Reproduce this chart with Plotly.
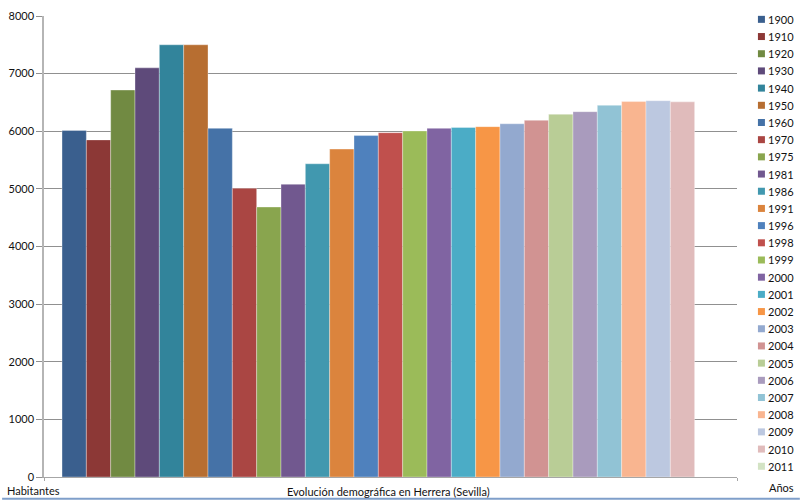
import plotly.graph_objects as go

years = ["1900", "1910", "1920", "1930", "1940", "1950", "1960", "1970", "1975",
         "1981", "1986", "1991", "1996", "1998", "1999", "2000", "2001", "2002",
         "2003", "2004", "2005", "2006", "2007", "2008", "2009", "2010", "2011"]
population = [6015, 5850, 6715, 7100, 7500, 7500, 6050, 5010, 4685,
              5080, 5435, 5690, 5925, 5975, 6005, 6050, 6065, 6080,
              6130, 6190, 6295, 6340, 6450, 6515, 6530, 6510, None]
colors = ["#3A5F8E", "#8C3836", "#718A42", "#5E4A7A", "#32849B", "#B76E31",
          "#4572A7", "#AA4643", "#89A54E", "#71588F", "#4198AF", "#DB843D",
          "#4F81BD", "#C0504D", "#9BBB59", "#8064A2", "#4BACC6", "#F79646",
          "#93A9CF", "#D19392", "#B9CD96", "#A99BBD", "#91C3D5", "#F9B590",
          "#BCC8E0", "#E0BBBB", "#D3E3C4"]
y_ticks = [0, 1000, 2000, 3000, 4000, 5000, 6000, 7000, 8000]
category = "Habitantes"
x_title = "Evolución demográfica en Herrera (Sevilla)"
legend_title = "Años"

FONT = "Lato, 'Open Sans', sans-serif"
W, H = 800, 501
ML, MR, MT, MB = 42, 63, 9, 24
PW, PH = W - ML - MR, H - MT - MB

fig = go.Figure()
for yr, val, col in zip(years, population, colors):
    fig.add_trace(go.Bar(
        x=[category], y=[val], name=yr,
        marker=dict(color=col, line=dict(color="rgba(255,255,255,0.55)", width=0.6)),
        showlegend=False,
    ))

# manual legend (plotly's minimum legend row height is too tall for 27 rows)
def px_to_paper_x(px):
    return (px - ML) / PW

def px_to_paper_y(py):
    return (H - MB - py) / PH

shapes = []
annotations = []
for i, (yr, col) in enumerate(zip(years, colors)):
    cy = 12.4 + 17.45 * i
    shapes.append(dict(
        type="rect", xref="paper", yref="paper",
        xsizemode="pixel", ysizemode="pixel",
        xanchor=px_to_paper_x(761.5), yanchor=px_to_paper_y(cy),
        x0=-3.5, x1=3.5, y0=-3.5, y1=3.5,
        fillcolor=col, line=dict(width=0),
    ))
    annotations.append(dict(
        text=yr, xref="paper", yref="paper",
        x=px_to_paper_x(766), y=px_to_paper_y(cy),
        xanchor="left", yanchor="middle", showarrow=False,
        font=dict(family=FONT, size=11, color="#111111"),
    ))

annotations.append(dict(
    text=legend_title, xref="paper", yref="paper",
    x=px_to_paper_x(767), y=px_to_paper_y(488),
    xanchor="left", yanchor="middle", showarrow=False,
    font=dict(family=FONT, size=11, color="#111111"),
))
annotations.append(dict(
    text=category, xref="paper", yref="paper",
    x=px_to_paper_x(3), y=px_to_paper_y(491),
    xanchor="left", yanchor="middle", showarrow=False,
    font=dict(family=FONT, size=11, color="#111111"),
))
annotations.append(dict(
    text=x_title, xref="paper", yref="paper",
    x=px_to_paper_x(387), y=px_to_paper_y(492),
    xanchor="center", yanchor="middle", showarrow=False,
    font=dict(family=FONT, size=11, color="#111111"),
))

# chart-area bottom border
shapes.append(dict(
    type="line", xref="paper", yref="paper",
    x0=px_to_paper_x(0), x1=px_to_paper_x(800),
    y0=px_to_paper_y(499), y1=px_to_paper_y(499),
    line=dict(color="#7F9FCA", width=2),
))

fig.update_layout(
    width=W, height=H,
    margin=dict(l=ML, r=MR, t=MT, b=MB, pad=0),
    paper_bgcolor="white", plot_bgcolor="white",
    barmode="group", bargap=0.052, bargroupgap=0,
    font=dict(family=FONT, size=11, color="#111111"),
    showlegend=False,
    shapes=shapes, annotations=annotations,
    xaxis=dict(
        showticklabels=False, showline=True, linecolor="#A6A6A6", linewidth=1.2,
        ticks="outside", tickson="boundaries", ticklen=3, tickcolor="#A6A6A6",
        showgrid=False, zeroline=False, fixedrange=True,
    ),
    yaxis=dict(
        range=[0, 8000], tickvals=y_ticks, ticktext=[str(v) for v in y_ticks],
        showgrid=True, gridcolor="#909090", gridwidth=1,
        showline=True, linecolor="#B5B5B5", linewidth=1.5,
        ticks="outside", ticklen=6, tickcolor="#909090",
        zeroline=False, tickfont=dict(family=FONT, size=11, color="#111111"),
        fixedrange=True,
    ),
)

fig.write_html("out.html")
